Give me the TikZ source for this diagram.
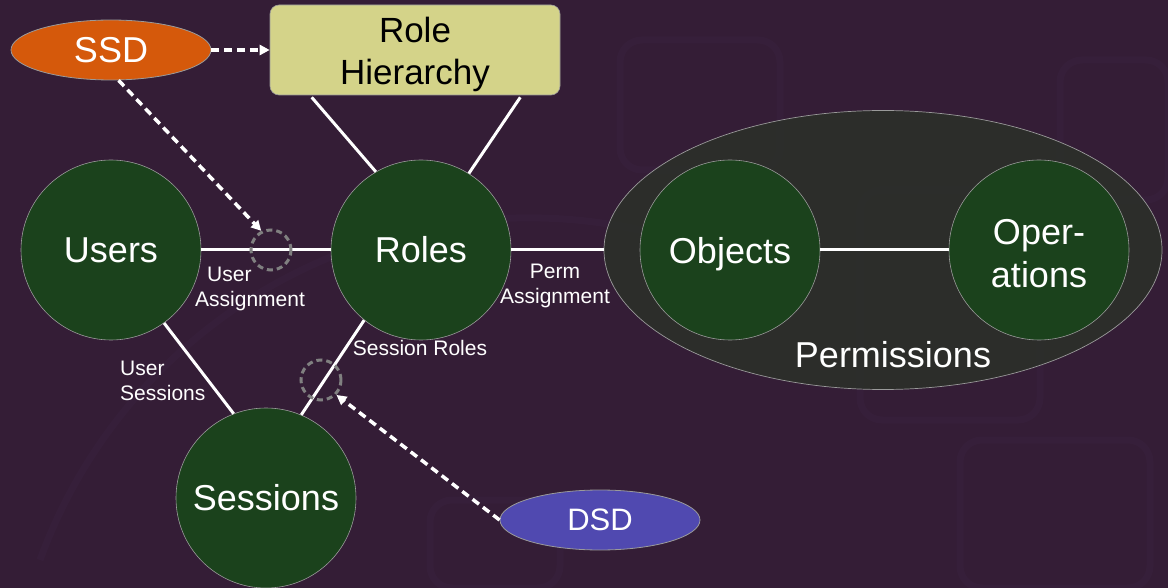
\documentclass[tikz,border=0pt]{standalone}
\usepackage{fontspec}
\setmainfont{Liberation Sans}
\usetikzlibrary{arrows.meta,shapes.geometric}
\definecolor{bgpurple}{HTML}{341D36}
\definecolor{bgshade}{HTML}{3A2340}
\definecolor{entity}{HTML}{1B421C}
\definecolor{rhfill}{HTML}{D4D389}
\definecolor{ssdfill}{HTML}{D5590B}
\definecolor{dsdfill}{HTML}{5049B0}
\definecolor{permfill}{HTML}{2C2F2A}
\definecolor{rim}{HTML}{9A9A9A}
\tikzset{
  entitynode/.style={circle, minimum size=180pt, inner sep=0pt, fill=entity, draw=rim, line width=0.6pt,
    text=white, font=\fontsize{36}{43}\selectfont, align=center},
  sodnode/.style={ellipse, minimum width=200pt, minimum height=60pt, inner sep=0pt, draw=rim, line width=0.8pt,
    text=white},
  link/.style={white, line width=3pt},
  sodarrow/.style={white, line width=3.5pt, dash pattern=on 8pt off 5pt,
    -{Triangle[length=10pt,width=10pt]}},
  ring/.style={draw=gray, line width=3pt, dash pattern=on 6pt off 4pt},
  lbl/.style={text=white, font=\fontsize{21}{25}\selectfont, inner sep=0pt},
  faint/.style={bgshade, line width=7pt, rounded corners=22pt}
}
\begin{document}
\begin{tikzpicture}[x=1pt,y=-1pt]
  % backdrop
  \fill[bgpurple] (0,0) rectangle (1168,588);
  \useasboundingbox (0,0) rectangle (1168,588);
  \begin{scope}[opacity=0.4]
    \draw[faint] (40,560) arc[start angle=200, end angle=300, radius=520];
    \draw[faint] (860,190) rectangle (1040,420);
    \draw[faint] (620,40) rectangle (780,170);
    \draw[faint] (1060,60) rectangle (1168,200);
    \draw[faint] (960,440) rectangle (1150,588);
    \draw[faint] (430,500) rectangle (560,588);
  \end{scope}

  % permission group
  \node (perm) [ellipse, minimum width=558pt, minimum height=279pt, inner sep=0pt,
    fill=permfill, fill opacity=0.92, draw=rim, line width=0.7pt] at (883,250) {};
  \node (permtext) [text=white, font=\fontsize{36}{38}\selectfont, inner sep=0pt] at (893,355) {Permissions};

  % entities
  \node (users) [entitynode] at (111,250) {Users};
  \node (roles) [entitynode] at (421,250) {Roles};
  \node (sessions) [entitynode] at (266,498) {Sessions};
  \node (objects) [entitynode, text depth=0pt] at (730,250) {Objects};
  \node (ops) [entitynode, label={[name=opstext, text=white, align=center, inner sep=0pt,
    font=\fontsize{36}{43}\selectfont, yshift=-4pt]center:Oper-\\ations}] at (1039,250) {};

  \node (rh) [rectangle, rounded corners=9pt, minimum width=290pt, minimum height=90pt,
    fill=rhfill, draw=rim, line width=0.6pt,
    label={[name=rhtext, text=black, align=center, inner sep=0pt,
    font=\fontsize{35}{42}\selectfont, yshift=-4pt]center:Role\\Hierarchy}] at (415,50) {};

  \node (ssd) [sodnode, fill=ssdfill, font=\fontsize{36}{38}\selectfont] at (111,50) {SSD};
  \node (dsd) [sodnode, fill=dsdfill, font=\fontsize{31}{33}\selectfont] at (600,520) {DSD};

  % relations
  \draw[link] (users.east) -- (roles.west);
  \draw[link] (roles.east) -- (perm.west);
  \draw[link] (objects.east) -- (ops.west);
  \path (rh.south west) ++(42,2) coordinate (rh1);
  \path (rh.south east) ++(-40,2) coordinate (rh2);
  \draw[link] (rh1) -- (roles.120);
  \draw[link] (rh2) -- (roles.58);
  \draw[link] (users.-54) -- (sessions.111);
  \draw[link] (roles.-129) -- (sessions.67);

  % constraint markers
  \node (uaring) [circle, minimum size=40pt, inner sep=0pt, ring] at (271,250) {};
  \node (srring) [circle, minimum size=40pt, inner sep=0pt, ring] at (321,380) {};

  \draw[sodarrow] (ssd.east) -- (rh.west);
  \draw[sodarrow] (ssd.-76) -- (uaring.117);
  \draw[sodarrow] (dsd.west) -- (srring.-44);

  % relation labels
  \node (ualbl) [lbl, align=left, anchor=north west] at (195,267) {\hspace*{12pt}User\\Assignment};
  \node (palbl) [lbl, align=center] at (555,286) {Perm\\Assignment};
  \node (srlbl) [lbl] at (420,348) {Session Roles};
  \node (uslbl) [lbl, align=left, anchor=west] at (120,381) {User\\Sessions};
\end{tikzpicture}
\end{document}
